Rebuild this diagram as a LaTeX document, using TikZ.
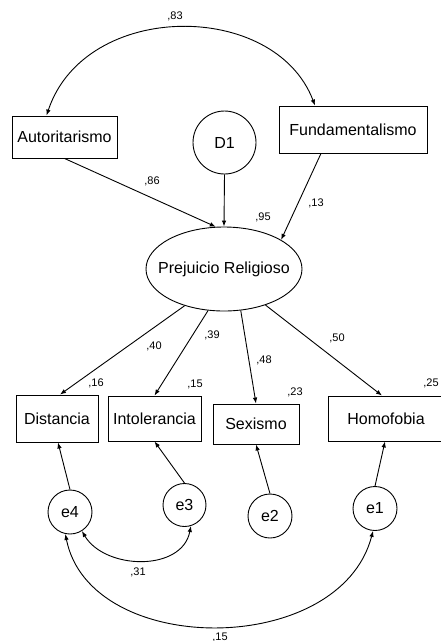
\documentclass[tikz,border=0pt]{standalone}
\usepackage{fontspec}
\setmainfont{Liberation Sans}
\usetikzlibrary{shapes.geometric,arrows.meta}
\begin{document}
\begin{tikzpicture}[x=1pt,y=-1pt,
  every node/.style={font=\fontsize{16}{19}\selectfont, inner sep=0pt},
  obs/.style={draw, rectangle, line width=0.9pt},
  lat/.style={draw, circle, line width=0.9pt, minimum size=44pt},
  coef/.style={font=\fontsize{11}{13}\selectfont},
  tip/.tip={Latex[length=6pt,width=4.5pt]},
  path/.style={line width=0.9pt, -tip},
  cov/.style={line width=0.9pt, tip-tip}]
\useasboundingbox (0,0) rectangle (440,641);

% exogenous observed variables
\node[obs, minimum width=105pt, minimum height=42pt] (auto) at (64.5,137) {Autoritarismo};
\node[obs, minimum width=148pt, minimum height=47pt] (fund) at (353,129.5) {Fundamentalismo};
\node[lat, minimum size=63pt] (d1) at (224.5,142.5) {D1};

% latent
\node[draw, ellipse, line width=0.9pt, minimum width=156pt, minimum height=84pt,
      label={[font=\fontsize{16}{19}\selectfont]center:Prejuicio Religioso}] (pr) at (224,269) {};

% indicators
\node[obs, minimum width=82pt, minimum height=47pt] (dist) at (57,418.5) {Distancia};
\node[obs, minimum width=93pt, minimum height=45pt] (into) at (154.5,418.5) {Intolerancia};
\node[obs, minimum width=86pt, minimum height=40pt] (sex) at (256,424) {Sexismo};
\node[obs, minimum width=116pt, minimum height=45pt] (homo) at (386,418.5) {Homofobia};

% errors
\node[lat] (e4) at (70,512) {e4};
\node[lat, minimum size=43pt] (e3) at (184.5,505) {e3};
\node[lat] (e2) at (270,516) {e2};
\node[lat] (e1) at (375,508.5) {e1};

% paths
\draw[path] (auto.south) -- (pr.101);
\draw[path] (d1.south) -- (pr.north);
\draw[path] ([xshift=-32pt]fund.south) -- (pr.27);

\draw[path] (pr.223) -- ([xshift=3pt]dist.north);
\draw[path] (pr.249) -- (into.north);
\draw[path] (pr.292) -- (sex.north);
\draw[path] (pr.319) -- ([xshift=-4pt]homo.north);

\draw[path] (e4.north) -- ([xshift=1pt]dist.south);
\draw[path] (e3.north) -- (into.south);
\draw[path] (e2.north) -- (sex.south);
\draw[path] (e1.north) -- ([xshift=-1pt]homo.south);

% covariances
\draw[cov] ([xshift=-18pt]auto.north) .. controls (85,0) and (275,0) .. ([xshift=-38pt]fund.north);
\draw[cov] (e4.302) .. controls (105,570) and (182,572) .. (e3.287);
\draw[cov] (e4.258) .. controls (90,658) and (340,658) .. (e1.265);

% coefficients
\node[coef] (c83) at (175,16.5) {,83};
\node[coef] (c86) at (152,181) {,86};
\node[coef] (c95) at (263,217) {,95};
\node[coef] (c13) at (316,203) {,13};
\node[coef] (c40) at (154,346) {,40};
\node[coef] (c39) at (212,335) {,39};
\node[coef] (c48) at (264,360) {,48};
\node[coef] (c50) at (337,338) {,50};
\node[coef] (c16) at (96,383) {,16};
\node[coef] (c15a) at (195,384) {,15};
\node[coef] (c23) at (295,392) {,23};
\node[coef] (c25) at (431,383) {,25};
\node[coef] (c31) at (138,572) {,31};
\node[coef] (c15b) at (220,637) {,15};
\end{tikzpicture}
\end{document}
